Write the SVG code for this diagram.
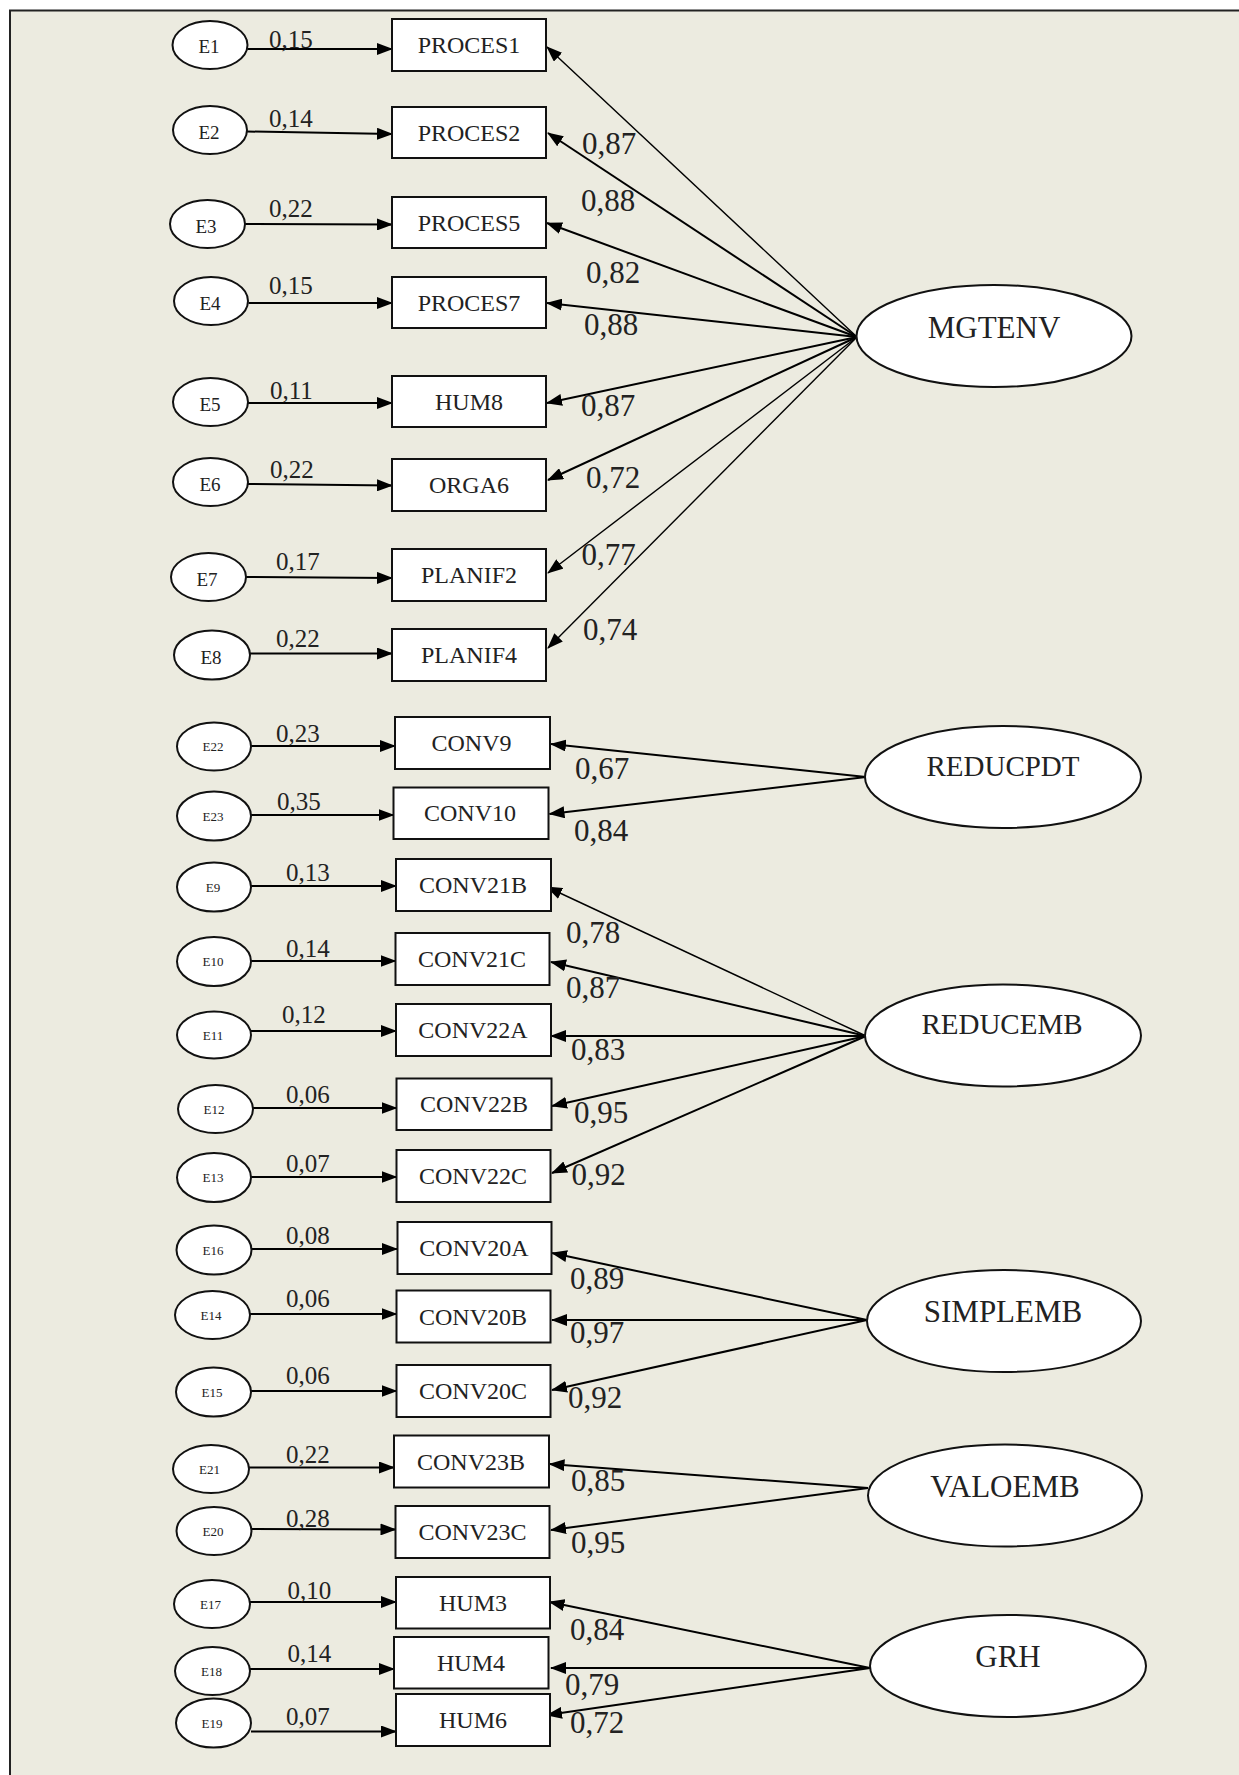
<svg xmlns="http://www.w3.org/2000/svg" width="1239" height="1775" viewBox="0 0 1239 1775">
  <style>
    .frame { fill: #ECEBE0; stroke: #222; stroke-width: 2; }
    .box { fill: #fff; stroke: #111; stroke-width: 2; }
    .err { fill: #fff; stroke: #111; stroke-width: 2; }
    .lat { fill: #fff; stroke: #111; stroke-width: 2; }
    .t { font-family: "Liberation Serif", "Times New Roman", serif; fill: #222; }
    .bt { font-size: 24px; text-anchor: middle; }
    .et { font-size: 19px; text-anchor: middle; }
    .es { font-size: 13px; text-anchor: middle; }
    .lt { font-size: 31px; text-anchor: middle; }
    .el { font-size: 25px; }
    .ll { font-size: 31px; }
    .c { fill: none; stroke: #000; stroke-width: 2; marker-end: url(#ah); }
    .thin { stroke-width: 1.4; }
  </style>
  <defs>
    <marker id="ah" markerUnits="userSpaceOnUse" markerWidth="16" markerHeight="12" refX="15" refY="6" orient="auto">
      <path d="M0,0 L16,6 L0,12 z" fill="#000"/>
    </marker>
  </defs>

  <rect width="1239" height="1775" fill="#fff"/>
  <rect class="frame" x="10" y="10.5" width="1240" height="1770"/>

  <!-- connectors: error terms to indicators, factors to indicators -->
  <g id="connectors">
    <!-- MGTENV block -->
    <line class="c" x1="247.5" y1="49" x2="392" y2="49"/>
    <line class="c" x1="247" y1="131.5" x2="392" y2="134"/>
    <line class="c" x1="245" y1="224" x2="392" y2="224.5"/>
    <line class="c" x1="248.5" y1="303" x2="392" y2="303"/>
    <line class="c" x1="248" y1="403" x2="392" y2="403"/>
    <line class="c" x1="248" y1="484" x2="392" y2="485.5"/>
    <line class="c" x1="246" y1="577" x2="392" y2="578"/>
    <line class="c" x1="250" y1="653.5" x2="392" y2="653.5"/>
    <line class="c thin" x1="857" y1="337" x2="547" y2="47"/>
    <line class="c" x1="857" y1="337" x2="548" y2="133"/>
    <line class="c" x1="857" y1="337" x2="547" y2="223"/>
    <line class="c" x1="857" y1="337" x2="547" y2="303"/>
    <line class="c" x1="857" y1="337" x2="547" y2="403"/>
    <line class="c" x1="857" y1="337" x2="548" y2="480"/>
    <line class="c thin" x1="857" y1="337" x2="548" y2="573"/>
    <line class="c thin" x1="857" y1="337" x2="548" y2="648"/>

    <!-- REDUCPDT block -->
    <line class="c" x1="251" y1="746" x2="395" y2="746"/>
    <line class="c" x1="251" y1="815" x2="393.5" y2="815"/>
    <line class="c" x1="866" y1="777" x2="551" y2="744"/>
    <line class="c" x1="866" y1="777" x2="549.5" y2="814"/>

    <!-- REDUCEMB block -->
    <line class="c" x1="251" y1="886" x2="396" y2="886"/>
    <line class="c" x1="251" y1="961" x2="395.5" y2="961"/>
    <line class="c" x1="251" y1="1031" x2="396" y2="1031"/>
    <line class="c" x1="253" y1="1108" x2="396.5" y2="1108"/>
    <line class="c" x1="251" y1="1177" x2="396.5" y2="1177"/>
    <line class="c thin" x1="866" y1="1036" x2="547" y2="887"/>
    <line class="c" x1="866" y1="1036" x2="551" y2="962"/>
    <line class="c" x1="866" y1="1036" x2="551" y2="1036"/>
    <line class="c" x1="866" y1="1036" x2="552" y2="1106"/>
    <line class="c" x1="866" y1="1036" x2="552" y2="1173"/>

    <!-- SIMPLEMB block -->
    <line class="c" x1="251" y1="1249" x2="397" y2="1249"/>
    <line class="c" x1="250" y1="1314" x2="396.5" y2="1314"/>
    <line class="c" x1="251" y1="1391" x2="396.5" y2="1391"/>
    <line class="c" x1="867" y1="1320" x2="552" y2="1253"/>
    <line class="c" x1="867" y1="1320" x2="552" y2="1320"/>
    <line class="c" x1="867" y1="1320" x2="552" y2="1390"/>

    <!-- VALOEMB block -->
    <line class="c" x1="249" y1="1467.5" x2="394" y2="1467.5"/>
    <line class="c" x1="252" y1="1529" x2="395.5" y2="1529.5"/>
    <line class="c" x1="868" y1="1488" x2="549.5" y2="1464"/>
    <line class="c" x1="868" y1="1488" x2="551" y2="1530"/>

    <!-- GRH block -->
    <line class="c" x1="250" y1="1602" x2="396" y2="1602"/>
    <line class="c" x1="250" y1="1669" x2="394" y2="1669"/>
    <line class="c" x1="251" y1="1731.5" x2="396" y2="1731.5"/>
    <line class="c" x1="870" y1="1668" x2="549.5" y2="1602"/>
    <line class="c" x1="870" y1="1668" x2="551" y2="1668"/>
    <line class="c" x1="870" y1="1668" x2="547" y2="1715"/>

    <!-- error variances -->
    <g class="t el">
      <text x="269" y="47.5">0,15</text>
      <text x="269" y="126.5">0,14</text>
      <text x="269" y="216.5">0,22</text>
      <text x="269" y="294">0,15</text>
      <text x="270" y="399">0,11</text>
      <text x="270" y="478">0,22</text>
      <text x="276" y="570">0,17</text>
      <text x="276" y="647">0,22</text>
      <text x="276" y="742">0,23</text>
      <text x="277" y="810">0,35</text>
      <text x="286" y="881">0,13</text>
      <text x="286" y="957">0,14</text>
      <text x="282" y="1023">0,12</text>
      <text x="286" y="1103">0,06</text>
      <text x="286" y="1172">0,07</text>
      <text x="286" y="1244">0,08</text>
      <text x="286" y="1307">0,06</text>
      <text x="286" y="1384">0,06</text>
      <text x="286" y="1463">0,22</text>
      <text x="286" y="1527">0,28</text>
      <text x="287.5" y="1599">0,10</text>
      <text x="287.5" y="1662">0,14</text>
      <text x="286" y="1725">0,07</text>
    </g>

    <!-- standardized loadings -->
    <g class="t ll">
      <text x="582" y="154">0,87</text>
      <text x="581" y="211">0,88</text>
      <text x="586" y="283">0,82</text>
      <text x="584" y="335">0,88</text>
      <text x="581" y="416">0,87</text>
      <text x="586" y="488">0,72</text>
      <text x="581.5" y="565">0,77</text>
      <text x="583" y="640">0,74</text>
      <text x="575" y="779">0,67</text>
      <text x="574" y="841">0,84</text>
      <text x="566" y="943">0,78</text>
      <text x="566" y="998">0,87</text>
      <text x="571" y="1060">0,83</text>
      <text x="574" y="1123">0,95</text>
      <text x="571.5" y="1185">0,92</text>
      <text x="570" y="1289">0,89</text>
      <text x="570" y="1343">0,97</text>
      <text x="568" y="1408">0,92</text>
      <text x="571" y="1491">0,85</text>
      <text x="571" y="1553">0,95</text>
      <text x="570" y="1640">0,84</text>
      <text x="565" y="1695">0,79</text>
      <text x="570" y="1733">0,72</text>
    </g>
  </g>

  <!-- error terms -->
  <g id="E1"><ellipse class="err" cx="210" cy="45" rx="37.5" ry="24"/><text class="t et" x="209" y="53">E1</text></g>
  <g id="E2"><ellipse class="err" cx="210" cy="130" rx="37" ry="24"/><text class="t et" x="209" y="139">E2</text></g>
  <g id="E3"><ellipse class="err" cx="207.5" cy="224" rx="37.5" ry="24"/><text class="t et" x="206" y="233">E3</text></g>
  <g id="E4"><ellipse class="err" cx="211" cy="301" rx="37" ry="24"/><text class="t et" x="210" y="310">E4</text></g>
  <g id="E5"><ellipse class="err" cx="210.5" cy="402" rx="37.5" ry="24"/><text class="t et" x="210" y="411">E5</text></g>
  <g id="E6"><ellipse class="err" cx="210.5" cy="482" rx="37.5" ry="24"/><text class="t et" x="210" y="491">E6</text></g>
  <g id="E7"><ellipse class="err" cx="208.5" cy="577" rx="37.5" ry="24"/><text class="t et" x="207" y="586">E7</text></g>
  <g id="E8"><ellipse class="err" cx="212" cy="655" rx="38" ry="24.5"/><text class="t et" x="211" y="664">E8</text></g>
  <g id="E22"><ellipse class="err" cx="214" cy="746.5" rx="37" ry="24"/><text class="t es" x="213" y="751">E22</text></g>
  <g id="E23"><ellipse class="err" cx="214" cy="816" rx="37" ry="24.5"/><text class="t es" x="213" y="820.5">E23</text></g>
  <g id="E9"><ellipse class="err" cx="214" cy="887" rx="37" ry="24.5"/><text class="t es" x="213" y="891.5">E9</text></g>
  <g id="E10"><ellipse class="err" cx="214" cy="961.5" rx="37" ry="24.5"/><text class="t es" x="213" y="966">E10</text></g>
  <g id="E11"><ellipse class="err" cx="214" cy="1035" rx="37" ry="23.5"/><text class="t es" x="213" y="1039.5">E11</text></g>
  <g id="E12"><ellipse class="err" cx="215.5" cy="1109" rx="37.5" ry="24"/><text class="t es" x="214" y="1113.5">E12</text></g>
  <g id="E13"><ellipse class="err" cx="214" cy="1177.5" rx="37" ry="24.5"/><text class="t es" x="213" y="1182">E13</text></g>
  <g id="E16"><ellipse class="err" cx="214" cy="1250" rx="37.5" ry="24.5"/><text class="t es" x="213" y="1254.5">E16</text></g>
  <g id="E14"><ellipse class="err" cx="212.5" cy="1315" rx="37.5" ry="24"/><text class="t es" x="211" y="1319.5">E14</text></g>
  <g id="E15"><ellipse class="err" cx="213.5" cy="1392" rx="37.5" ry="24.5"/><text class="t es" x="212" y="1396.5">E15</text></g>
  <g id="E21"><ellipse class="err" cx="211" cy="1469" rx="38" ry="24"/><text class="t es" x="209.5" y="1473.5">E21</text></g>
  <g id="E20"><ellipse class="err" cx="214" cy="1531" rx="37.5" ry="24"/><text class="t es" x="213" y="1535.5">E20</text></g>
  <g id="E17"><ellipse class="err" cx="212" cy="1604" rx="38" ry="24"/><text class="t es" x="210.5" y="1608.5">E17</text></g>
  <g id="E18"><ellipse class="err" cx="212.5" cy="1671" rx="37.5" ry="24"/><text class="t es" x="211.5" y="1675.5">E18</text></g>
  <g id="E19"><ellipse class="err" cx="213.5" cy="1723" rx="37.5" ry="24.5"/><text class="t es" x="212" y="1727.5">E19</text></g>

  <!-- observed indicators -->
  <g id="PROCES1"><rect class="box" x="392" y="19" width="154" height="52"/><text class="t bt" x="469" y="53">PROCES1</text></g>
  <g id="PROCES2"><rect class="box" x="392" y="107" width="154" height="51"/><text class="t bt" x="469" y="141">PROCES2</text></g>
  <g id="PROCES5"><rect class="box" x="392" y="197" width="154" height="51"/><text class="t bt" x="469" y="231">PROCES5</text></g>
  <g id="PROCES7"><rect class="box" x="392" y="277" width="154" height="51"/><text class="t bt" x="469" y="311">PROCES7</text></g>
  <g id="HUM8"><rect class="box" x="392" y="376" width="154" height="51"/><text class="t bt" x="469" y="410">HUM8</text></g>
  <g id="ORGA6"><rect class="box" x="392" y="459" width="154" height="52"/><text class="t bt" x="469" y="493">ORGA6</text></g>
  <g id="PLANIF2"><rect class="box" x="392" y="549" width="154" height="52"/><text class="t bt" x="469" y="583">PLANIF2</text></g>
  <g id="PLANIF4"><rect class="box" x="392" y="629" width="154" height="52"/><text class="t bt" x="469" y="663">PLANIF4</text></g>
  <g id="CONV9"><rect class="box" x="395" y="717" width="155" height="52"/><text class="t bt" x="471.5" y="751">CONV9</text></g>
  <g id="CONV10"><rect class="box" x="393.5" y="787.5" width="155" height="51.5"/><text class="t bt" x="470" y="821">CONV10</text></g>
  <g id="CONV21B"><rect class="box" x="396" y="859" width="155" height="52"/><text class="t bt" x="473" y="893">CONV21B</text></g>
  <g id="CONV21C"><rect class="box" x="395.5" y="933" width="154" height="52"/><text class="t bt" x="472" y="967">CONV21C</text></g>
  <g id="CONV22A"><rect class="box" x="396" y="1004" width="155" height="52"/><text class="t bt" x="473" y="1038">CONV22A</text></g>
  <g id="CONV22B"><rect class="box" x="396.5" y="1078.5" width="155" height="51.5"/><text class="t bt" x="474" y="1112">CONV22B</text></g>
  <g id="CONV22C"><rect class="box" x="396.5" y="1150" width="154" height="52"/><text class="t bt" x="473" y="1184">CONV22C</text></g>
  <g id="CONV20A"><rect class="box" x="397.5" y="1222" width="154" height="52"/><text class="t bt" x="474" y="1256">CONV20A</text></g>
  <g id="CONV20B"><rect class="box" x="396.5" y="1290.5" width="154" height="52"/><text class="t bt" x="473" y="1324.5">CONV20B</text></g>
  <g id="CONV20C"><rect class="box" x="396.5" y="1365" width="154" height="52"/><text class="t bt" x="473" y="1399">CONV20C</text></g>
  <g id="CONV23B"><rect class="box" x="394" y="1435.5" width="155" height="52"/><text class="t bt" x="471" y="1469.5">CONV23B</text></g>
  <g id="CONV23C"><rect class="box" x="395.5" y="1506" width="154" height="52"/><text class="t bt" x="472.5" y="1540">CONV23C</text></g>
  <g id="HUM3"><rect class="box" x="396" y="1577" width="154" height="51.5"/><text class="t bt" x="473" y="1611">HUM3</text></g>
  <g id="HUM4"><rect class="box" x="394" y="1637" width="154.5" height="51.5"/><text class="t bt" x="471" y="1671">HUM4</text></g>
  <g id="HUM6"><rect class="box" x="396" y="1694" width="154" height="52"/><text class="t bt" x="473" y="1728">HUM6</text></g>

  <!-- latent factors -->
  <g id="MGTENV"><ellipse class="lat" cx="994" cy="336" rx="137.5" ry="51"/><text class="t lt" x="994" y="338">MGTENV</text></g>
  <g id="REDUCPDT"><ellipse class="lat" cx="1003" cy="777" rx="138" ry="51"/><text class="t lt" x="1003" y="776" style="font-size:29px">REDUCPDT</text></g>
  <g id="REDUCEMB"><ellipse class="lat" cx="1003" cy="1035.5" rx="138" ry="51"/><text class="t lt" x="1002" y="1034" style="font-size:29px">REDUCEMB</text></g>
  <g id="SIMPLEMB"><ellipse class="lat" cx="1004" cy="1321" rx="137" ry="51"/><text class="t lt" x="1003" y="1322">SIMPLEMB</text></g>
  <g id="VALOEMB"><ellipse class="lat" cx="1005" cy="1495.5" rx="137" ry="51"/><text class="t lt" x="1005" y="1497">VALOEMB</text></g>
  <g id="GRH"><ellipse class="lat" cx="1008" cy="1666" rx="138" ry="51"/><text class="t lt" x="1008" y="1667">GRH</text></g>
</svg>
